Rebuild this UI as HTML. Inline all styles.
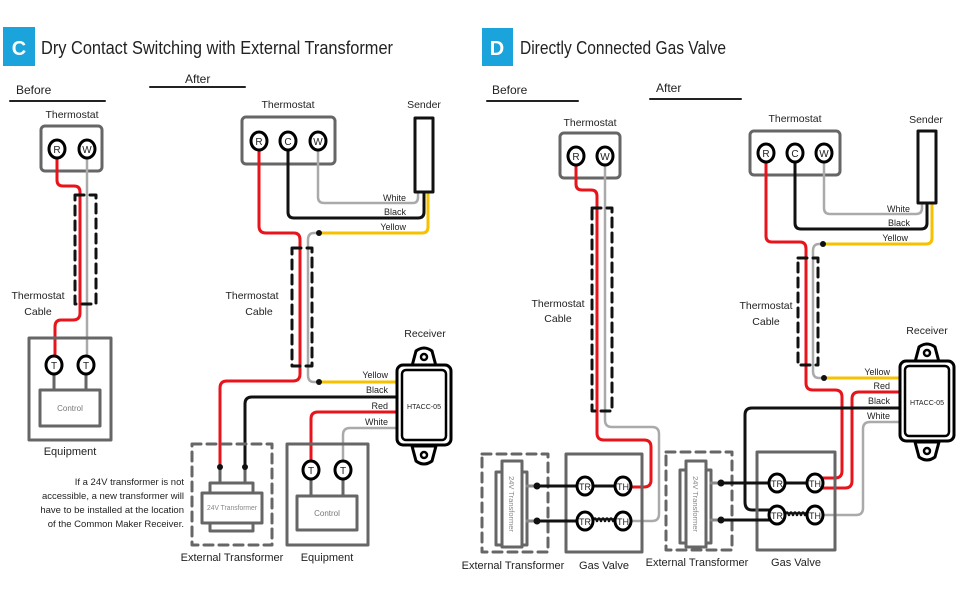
<!DOCTYPE html>
<html><head><meta charset="utf-8"><style>
html,body{margin:0;padding:0;background:#fff;}
svg{display:block;font-family:"Liberation Sans",sans-serif;}
</style></head><body>
<svg width="970" height="600" viewBox="0 0 970 600" xmlns="http://www.w3.org/2000/svg">
<defs>
<g id="recv">
 <path d="M-12,-47 L-8,-62 Q0,-68 8,-62 L12,-47 Z" fill="#fff" stroke="#000" stroke-width="3"/>
 <circle cx="0" cy="-56" r="3" fill="#fff" stroke="#000" stroke-width="2.5"/>
 <path d="M-12,33 L-8,48 Q0,54 8,48 L12,33 Z" fill="#fff" stroke="#000" stroke-width="3"/>
 <circle cx="0" cy="42" r="3" fill="#fff" stroke="#000" stroke-width="2.5"/>
 <rect x="-27" y="-48" width="54" height="80" rx="6" fill="#fff" stroke="#000" stroke-width="3"/>
 <rect x="-22" y="-43" width="44" height="70" rx="4" fill="#fff" stroke="#000" stroke-width="2.5"/>
 <text x="0" y="-4" font-size="7.5" text-anchor="middle" fill="#222" textLength="34" lengthAdjust="spacingAndGlyphs">HTACC-05</text>
</g>
</defs>
<g fill="none" stroke-linejoin="round" stroke-linecap="round">

<!-- ===== Panel C ===== -->
<rect x="3" y="27" width="32" height="39" fill="#1ba3dc" stroke="none"/>
<text x="19" y="55" font-size="20" font-weight="bold" fill="#fff" text-anchor="middle" stroke="none">C</text>
<text x="41" y="54" font-size="18" fill="#222" stroke="none" textLength="352" lengthAdjust="spacingAndGlyphs">Dry Contact Switching with External Transformer</text>
<text x="16" y="94" font-size="12" fill="#222" stroke="none">Before</text>
<line x1="10" y1="101" x2="105" y2="101" stroke="#222" stroke-width="2"/>
<text x="185" y="83" font-size="12" fill="#222" stroke="none">After</text>
<line x1="150" y1="87" x2="245" y2="87" stroke="#222" stroke-width="2"/>

<!-- before -->
<text x="72" y="118" font-size="10.5" fill="#222" text-anchor="middle" stroke="none">Thermostat</text>
<rect x="41" y="126" width="61" height="45" rx="4" stroke="#666" stroke-width="3"/>
<path d="M57,157 V180 Q57,186 63,186 H74 Q80,186 80,192 V313 Q80,320 73,320 H61 Q55,320 55,327 V356" stroke="#e8141c" stroke-width="3"/>
<path d="M87,157 V356" stroke="#aaa" stroke-width="2.5"/>
<rect x="75" y="195" width="21" height="109" stroke="#111" stroke-width="3" stroke-dasharray="9,6"/>
<text x="38" y="299" font-size="10.5" fill="#222" text-anchor="middle" stroke="none">Thermostat</text>
<text x="38" y="315" font-size="10.5" fill="#222" text-anchor="middle" stroke="none">Cable</text>
<rect x="29" y="338" width="82" height="102" stroke="#666" stroke-width="3"/>
<line x1="54" y1="374" x2="54" y2="390" stroke="#666" stroke-width="3"/>
<line x1="86" y1="374" x2="86" y2="390" stroke="#666" stroke-width="3"/>
<rect x="40" y="390" width="60" height="36" stroke="#666" stroke-width="3"/>
<text x="70" y="411" font-size="8" fill="#777" text-anchor="middle" stroke="none">Control</text>
<text x="70" y="455" font-size="11" fill="#222" text-anchor="middle" stroke="none">Equipment</text>

<!-- after -->
<text x="288" y="108" font-size="10.5" fill="#222" text-anchor="middle" stroke="none">Thermostat</text>
<rect x="242" y="117" width="93" height="47" rx="4" stroke="#666" stroke-width="3"/>
<text x="424" y="108" font-size="10.5" fill="#222" text-anchor="middle" stroke="none">Sender</text>
<path d="M318,149 V197 Q318,203 324,203 H413 Q418,203 418,197 V192" stroke="#aaa" stroke-width="2.5"/>
<path d="M288,149 V212 Q288,218 294,218 H418 Q424,218 424,212 V192" stroke="#111" stroke-width="3"/>
<path d="M319,233 H422 Q428,233 428,227 V192" stroke="#f6c200" stroke-width="3"/>
<rect x="415" y="118" width="18" height="74" fill="#fff" stroke="#111" stroke-width="3"/>
<text x="406" y="201" font-size="9" fill="#222" text-anchor="end" stroke="none">White</text>
<text x="406" y="215" font-size="9" fill="#222" text-anchor="end" stroke="none">Black</text>
<text x="406" y="230" font-size="9" fill="#222" text-anchor="end" stroke="none">Yellow</text>
<path d="M319,233 H314 Q308,233 308,240 V375 Q308,382 314,382 H319" stroke="#aaa" stroke-width="2.5"/>
<path d="M259,149 V226 Q259,233 266,233 H294 Q300,233 300,240 V374 Q300,381 293,381 H227 Q220,381 220,388 V467" stroke="#e8141c" stroke-width="3"/>
<rect x="292" y="248" width="20" height="118" stroke="#111" stroke-width="3" stroke-dasharray="9,6"/>
<text x="252" y="299" font-size="10.5" fill="#222" text-anchor="middle" stroke="none">Thermostat</text>
<text x="259" y="315" font-size="10.5" fill="#222" text-anchor="middle" stroke="none">Cable</text>
<path d="M319,382 H398" stroke="#f6c200" stroke-width="3"/>
<path d="M398,397 H252 Q245,397 245,404 V467" stroke="#111" stroke-width="3"/>
<path d="M398,412 H318 Q311,412 311,419 V462" stroke="#e8141c" stroke-width="3"/>
<path d="M398,428 H350 Q343,428 343,435 V462" stroke="#aaa" stroke-width="2.5"/>
<text x="388" y="378" font-size="9" fill="#222" text-anchor="end" stroke="none">Yellow</text>
<text x="388" y="393" font-size="9" fill="#222" text-anchor="end" stroke="none">Black</text>
<text x="388" y="409" font-size="9" fill="#222" text-anchor="end" stroke="none">Red</text>
<text x="388" y="425" font-size="9" fill="#222" text-anchor="end" stroke="none">White</text>
<text x="425" y="337" font-size="10.5" fill="#222" text-anchor="middle" stroke="none">Receiver</text>
<use href="#recv" x="424" y="413"/>
<!-- external transformer C -->
<rect x="192" y="444" width="80" height="101" stroke="#666" stroke-width="3" stroke-dasharray="9,6"/>
<line x1="220" y1="467" x2="220" y2="483" stroke="#666" stroke-width="3"/>
<line x1="245" y1="467" x2="245" y2="483" stroke="#666" stroke-width="3"/>
<rect x="210" y="483" width="43" height="10" stroke="#666" stroke-width="3" fill="#fff"/>
<rect x="210" y="523" width="43" height="8" stroke="#666" stroke-width="3" fill="#fff"/>
<rect x="202" y="493" width="60" height="30" stroke="#666" stroke-width="3" fill="#fff"/>
<text x="232" y="510" font-size="7" fill="#888" text-anchor="middle" stroke="none" textLength="50" lengthAdjust="spacingAndGlyphs">24V Transformer</text>
<text x="232" y="561" font-size="11" fill="#222" text-anchor="middle" stroke="none">External Transformer</text>
<g font-size="9.5" fill="#222" text-anchor="end" stroke="none">
<text x="184" y="485">If a 24V transformer is not</text>
<text x="184" y="499">accessible, a new transformer will</text>
<text x="184" y="513">have to be installed at the location</text>
<text x="184" y="527">of the Common Maker Receiver.</text>
</g>
<rect x="287" y="444" width="81" height="101" stroke="#666" stroke-width="3"/>
<line x1="311" y1="478" x2="311" y2="496" stroke="#666" stroke-width="3"/>
<line x1="343" y1="478" x2="343" y2="496" stroke="#666" stroke-width="3"/>
<rect x="297" y="496" width="60" height="34" stroke="#666" stroke-width="3"/>
<text x="327" y="516" font-size="8" fill="#777" text-anchor="middle" stroke="none">Control</text>
<text x="327" y="561" font-size="11" fill="#222" text-anchor="middle" stroke="none">Equipment</text>

<!-- ===== Panel D ===== -->
<rect x="482" y="28" width="31" height="38" fill="#1ba3dc" stroke="none"/>
<text x="497" y="55" font-size="20" font-weight="bold" fill="#fff" text-anchor="middle" stroke="none">D</text>
<text x="520" y="54" font-size="18" fill="#222" stroke="none" textLength="206" lengthAdjust="spacingAndGlyphs">Directly Connected Gas Valve</text>
<text x="492" y="94" font-size="12" fill="#222" stroke="none">Before</text>
<line x1="487" y1="101" x2="578" y2="101" stroke="#222" stroke-width="2"/>
<text x="656" y="92" font-size="12" fill="#222" stroke="none">After</text>
<line x1="650" y1="99" x2="741" y2="99" stroke="#222" stroke-width="2"/>

<!-- D before -->
<text x="590" y="126" font-size="10.5" fill="#222" text-anchor="middle" stroke="none">Thermostat</text>
<rect x="560" y="133" width="60" height="45" rx="4" stroke="#666" stroke-width="3"/>
<path d="M576,164 V184 Q576,190 582,190 H591 Q597,190 597,196 V433 Q597,440 604,440 H644 Q651,440 651,447 V480 Q651,487 644,487 H631" stroke="#e8141c" stroke-width="3"/>
<path d="M605,164 V420 Q605,427 612,427 H652 Q659,427 659,434 V514 Q659,521 652,521 H631" stroke="#aaa" stroke-width="2.5"/>
<rect x="592" y="208" width="20" height="203" stroke="#111" stroke-width="3" stroke-dasharray="9,6"/>
<text x="558" y="307" font-size="10.5" fill="#222" text-anchor="middle" stroke="none">Thermostat</text>
<text x="558" y="322" font-size="10.5" fill="#222" text-anchor="middle" stroke="none">Cable</text>
<rect x="482" y="454" width="66" height="98" stroke="#666" stroke-width="3" stroke-dasharray="9,6"/>
<rect x="496" y="472" width="31" height="73" stroke="#666" stroke-width="3" fill="#fff"/>
<rect x="502" y="461" width="20" height="86" stroke="#666" stroke-width="3" fill="#fff"/>
<text transform="translate(509,504) rotate(90)" font-size="7.5" fill="#888" text-anchor="middle" stroke="none">24V Transformer</text>
<line x1="527" y1="486" x2="537" y2="486" stroke="#888" stroke-width="3"/>
<line x1="527" y1="521" x2="537" y2="521" stroke="#888" stroke-width="3"/>
<rect x="566" y="454" width="76" height="98" stroke="#666" stroke-width="3"/>
<line x1="537" y1="486" x2="615" y2="486" stroke="#111" stroke-width="3"/>
<line x1="537" y1="521" x2="577" y2="521" stroke="#111" stroke-width="3"/>
<path d="M593,521 q2,-5 4,0 q2,-5 4,0 q2,-5 4,0 q2,-5 4,0 q2,-5 4,0 q2,-5 4,0" stroke="#111" stroke-width="2.5"/>
<text x="513" y="569" font-size="11" fill="#222" text-anchor="middle" stroke="none">External Transformer</text>
<text x="604" y="569" font-size="11" fill="#222" text-anchor="middle" stroke="none">Gas Valve</text>

<!-- D after -->
<text x="795" y="122" font-size="10.5" fill="#222" text-anchor="middle" stroke="none">Thermostat</text>
<rect x="750" y="131" width="90" height="44" rx="4" stroke="#666" stroke-width="3"/>
<text x="926" y="123" font-size="10.5" fill="#222" text-anchor="middle" stroke="none">Sender</text>
<path d="M824,161 V208 Q824,214 830,214 H916 Q922,214 922,208 V203" stroke="#aaa" stroke-width="2.5"/>
<path d="M795,161 V223 Q795,229 801,229 H921 Q927,229 927,223 V203" stroke="#111" stroke-width="3"/>
<path d="M823,244 H926 Q932,244 932,238 V203" stroke="#f6c200" stroke-width="3"/>
<rect x="918" y="131" width="18" height="72" fill="#fff" stroke="#111" stroke-width="3"/>
<text x="910" y="212" font-size="9" fill="#222" text-anchor="end" stroke="none">White</text>
<text x="910" y="226" font-size="9" fill="#222" text-anchor="end" stroke="none">Black</text>
<text x="908" y="241" font-size="9" fill="#222" text-anchor="end" stroke="none">Yellow</text>
<path d="M823,244 H819 Q813,244 813,251 V371 Q813,378 819,378 H824" stroke="#aaa" stroke-width="2.5"/>
<path d="M766,161 V236 Q766,242 772,242 H800 Q806,242 806,249 V383 Q806,390 813,390 H835 Q842,390 842,397 V471 Q842,478 835,478 H822" stroke="#e8141c" stroke-width="3"/>
<rect x="798" y="258" width="20" height="107" stroke="#111" stroke-width="3" stroke-dasharray="9,6"/>
<text x="766" y="309" font-size="10.5" fill="#222" text-anchor="middle" stroke="none">Thermostat</text>
<text x="766" y="325" font-size="10.5" fill="#222" text-anchor="middle" stroke="none">Cable</text>
<path d="M824,378 H903" stroke="#f6c200" stroke-width="3"/>
<path d="M903,392 H859 Q852,392 852,399 V481 Q852,488 845,488 H822" stroke="#e8141c" stroke-width="3"/>
<path d="M903,408 H752 Q745,408 745,415 V502 Q745,510 752,510 H770" stroke="#111" stroke-width="3"/>
<path d="M903,422 H870 Q863,422 863,429 V508 Q863,515 856,515 H822" stroke="#aaa" stroke-width="2.5"/>
<text x="890" y="375" font-size="9" fill="#222" text-anchor="end" stroke="none">Yellow</text>
<text x="890" y="389" font-size="9" fill="#222" text-anchor="end" stroke="none">Red</text>
<text x="890" y="404" font-size="9" fill="#222" text-anchor="end" stroke="none">Black</text>
<text x="890" y="419" font-size="9" fill="#222" text-anchor="end" stroke="none">White</text>
<text x="927" y="334" font-size="10.5" fill="#222" text-anchor="middle" stroke="none">Receiver</text>
<use href="#recv" x="927" y="409"/>
<rect x="666" y="452" width="66" height="98" stroke="#666" stroke-width="3" stroke-dasharray="9,6"/>
<rect x="680" y="470" width="31" height="73" stroke="#666" stroke-width="3" fill="#fff"/>
<rect x="686" y="461" width="20" height="86" stroke="#666" stroke-width="3" fill="#fff"/>
<text transform="translate(693,504) rotate(90)" font-size="7.5" fill="#888" text-anchor="middle" stroke="none">24V Transformer</text>
<line x1="711" y1="483" x2="721" y2="483" stroke="#888" stroke-width="3"/>
<line x1="711" y1="520" x2="721" y2="520" stroke="#888" stroke-width="3"/>
<rect x="757" y="452" width="78" height="98" stroke="#666" stroke-width="3"/>
<line x1="721" y1="483" x2="808" y2="483" stroke="#111" stroke-width="3"/>
<line x1="721" y1="520" x2="770" y2="520" stroke="#111" stroke-width="3"/>
<path d="M785,515 q2,-5 4,0 q2,-5 4,0 q2,-5 4,0 q2,-5 4,0 q2,-5 4,0 q2,-5 4,0" stroke="#111" stroke-width="2.5"/>
<text x="697" y="566" font-size="11" fill="#222" text-anchor="middle" stroke="none">External Transformer</text>
<text x="796" y="566" font-size="11" fill="#222" text-anchor="middle" stroke="none">Gas Valve</text>

<!-- dots -->
<g fill="#111" stroke="none">
<circle cx="319" cy="233" r="3"/><circle cx="319" cy="382" r="3"/>
<circle cx="220" cy="467" r="3"/><circle cx="245" cy="467" r="3"/>
<circle cx="537" cy="486" r="3.5"/><circle cx="537" cy="521" r="3.5"/>
<circle cx="823" cy="244" r="3"/><circle cx="824" cy="378" r="3"/>
<circle cx="721" cy="483" r="3.5"/><circle cx="721" cy="520" r="3.5"/>
</g>
</g>

<!-- terminals -->
<g fill="#fff" stroke="#000" stroke-width="3">
<ellipse cx="57" cy="149" rx="8" ry="9"/><ellipse cx="87" cy="149" rx="8" ry="9"/>
<ellipse cx="54" cy="365" rx="8" ry="9"/><ellipse cx="86" cy="365" rx="8" ry="9"/>
<ellipse cx="259" cy="141" rx="8" ry="9"/><ellipse cx="288" cy="141" rx="8" ry="9"/><ellipse cx="318" cy="141" rx="8" ry="9"/>
<ellipse cx="311" cy="470" rx="8" ry="9"/><ellipse cx="343" cy="470" rx="8" ry="9"/>
<ellipse cx="576" cy="156" rx="8" ry="9"/><ellipse cx="605" cy="156" rx="8" ry="9"/>
<ellipse cx="585" cy="486" rx="8" ry="9"/><ellipse cx="623" cy="486" rx="8" ry="9"/>
<ellipse cx="585" cy="521" rx="8" ry="9"/><ellipse cx="623" cy="521" rx="8" ry="9"/>
<ellipse cx="766" cy="153" rx="8" ry="9"/><ellipse cx="795" cy="153" rx="8" ry="9"/><ellipse cx="824" cy="153" rx="8" ry="9"/>
<ellipse cx="777" cy="483" rx="8" ry="9"/><ellipse cx="815" cy="483" rx="8" ry="9"/>
<ellipse cx="777" cy="515" rx="8" ry="9"/><ellipse cx="815" cy="515" rx="8" ry="9"/>
</g>
<g font-size="10" fill="#222" text-anchor="middle">
<text x="57" y="153">R</text><text x="87" y="153">W</text>
<text x="54" y="369">T</text><text x="86" y="369">T</text>
<text x="259" y="145">R</text><text x="288" y="145">C</text><text x="318" y="145">W</text>
<text x="311" y="474">T</text><text x="343" y="474">T</text>
<text x="576" y="160">R</text><text x="605" y="160">W</text>
<text x="766" y="157">R</text><text x="795" y="157">C</text><text x="824" y="157">W</text>
</g>
<g font-size="9" fill="#222" text-anchor="middle">
<text x="585" y="490">TR</text><text x="623" y="490">TH</text>
<text x="585" y="525">TR</text><text x="623" y="525">TH</text>
<text x="777" y="487">TR</text><text x="815" y="487">TH</text>
<text x="777" y="519">TR</text><text x="815" y="519">TH</text>
</g>
</svg>
</body></html>
